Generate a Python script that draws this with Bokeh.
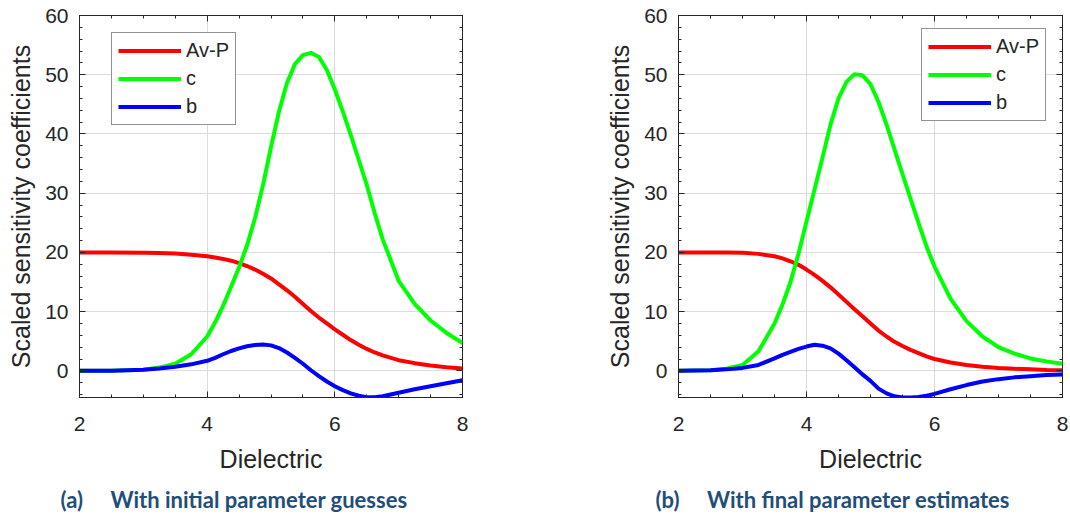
from bokeh.plotting import figure
from bokeh.models import Range1d, SingleIntervalTicker, LinearAxis, Legend, LegendItem, Title
from bokeh.layouts import row
from bokeh.embed import file_html
from bokeh.resources import INLINE

# ---------------- data ----------------
series_names = ["Av-P", "c", "b"]

x_a = [2, 2.5, 3, 3.25, 3.5, 3.75, 4, 4.125, 4.25, 4.375, 4.5, 4.625, 4.75, 4.875, 5, 5.125,
       5.25, 5.375, 5.5, 5.625, 5.75, 5.875, 6, 6.125, 6.25, 6.375, 6.5, 6.625, 6.75, 7, 7.25,
       7.5, 7.75, 8]
avp_a = [20, 20, 19.95, 19.9, 19.8, 19.6, 19.35, 19.15, 18.9, 18.6, 18.2, 17.7, 17.1, 16.4, 15.6,
         14.6, 13.6, 12.5, 11.3, 10.1, 9.0, 8.0, 7.0, 6.1, 5.2, 4.4, 3.7, 3.1, 2.6, 1.8, 1.3, 0.9,
         0.6, 0.4]
c_a = [0, 0.02, 0.2, 0.55, 1.2, 2.8, 5.8, 8.2, 11.0, 14.2, 17.5, 21.2, 25.8, 31.4, 37.8, 43.8,
       48.6, 51.8, 53.3, 53.7, 53.0, 50.8, 47.5, 43.8, 39.8, 35.6, 31.4, 26.6, 22.2, 15.2, 11.3,
       8.5, 6.4, 4.7]
b_a = [0, 0.03, 0.2, 0.4, 0.7, 1.1, 1.7, 2.2, 2.8, 3.35, 3.8, 4.15, 4.38, 4.45, 4.3, 3.85, 3.1,
       2.2, 1.2, 0.1, -0.9, -1.8, -2.6, -3.25, -3.8, -4.2, -4.45, -4.45, -4.3, -3.7, -3.1, -2.6,
       -2.1, -1.6]

x_b = [2, 2.5, 2.75, 3, 3.25, 3.5, 3.625, 3.75, 3.875, 4, 4.125, 4.25, 4.375, 4.5, 4.625, 4.75,
       4.875, 5, 5.125, 5.25, 5.375, 5.5, 5.625, 5.75, 5.875, 6, 6.25, 6.5, 6.75, 7, 7.25, 7.5,
       7.75, 8]
avp_b = [20, 20, 19.98, 19.95, 19.75, 19.35, 19.0, 18.5, 17.9, 17.1, 16.2, 15.2, 14.1, 12.9,
         11.65, 10.4, 9.2, 8.0, 6.8, 5.8, 4.9, 4.2, 3.55, 3.0, 2.45, 2.0, 1.4, 1.0, 0.7, 0.5,
         0.35, 0.25, 0.15, 0.1]
c_b = [0, 0.1, 0.35, 1.0, 3.3, 8.0, 11.2, 15.0, 19.8, 25.2, 30.6, 36.0, 41.6, 46.0, 48.8, 50.1,
       49.9, 48.4, 45.4, 41.6, 37.4, 33.2, 29.1, 25.0, 21.0, 17.6, 12.2, 8.4, 5.8, 4.0, 2.9, 2.1,
       1.6, 1.2]
b_b = [0, 0.1, 0.25, 0.5, 1.0, 2.1, 2.7, 3.2, 3.7, 4.1, 4.4, 4.25, 3.8, 2.9, 1.8, 0.6, -0.6,
       -1.7, -3.0, -3.8, -4.3, -4.5, -4.5, -4.4, -4.2, -3.9, -3.1, -2.4, -1.8, -1.4, -1.1, -0.9,
       -0.7, -0.6]

x_label = "Dielectric"
y_label = "Scaled sensitivity coefficients"
captions = ["(a)\u2003\u2002With initial parameter guesses",
            "(b)\u2003\u2002With final parameter estimates"]

# ---------------- styling ----------------
colors = ["#ff0000", "#00ff00", "#0000ff"]
DARK = "#262626"
FONT = "Liberation Sans"
CAP_COLOR = "#1f4e79"


def make_panel(x, ys, border_left, border_right, legend_loc, caption, cap_offset):
    p = figure(width=535, height=520, output_backend="svg", toolbar_location=None,
               x_range=Range1d(2, 8), y_range=Range1d(-4.5, 60),
               min_border_left=border_left, min_border_right=border_right,
               min_border_top=15, min_border_bottom=10)
    p.background_fill_color = "white"
    p.border_fill_color = "white"
    p.outline_line_color = DARK
    p.outline_line_width = 1
    p.outline_line_alpha = 1

    xt = SingleIntervalTicker(interval=2, num_minor_ticks=4)
    yt = SingleIntervalTicker(interval=10, num_minor_ticks=5)
    p.xaxis.ticker = xt
    p.yaxis.ticker = yt
    p.xgrid.ticker = xt
    p.ygrid.ticker = yt
    for g in (p.xgrid, p.ygrid):
        g.grid_line_color = "#dcdcdc"
        g.grid_line_width = 1

    for ax in (p.xaxis, p.yaxis):
        ax.axis_line_color = DARK
        ax.major_tick_in = 6
        ax.major_tick_out = 0
        ax.minor_tick_in = 3
        ax.minor_tick_out = 0
        ax.major_tick_line_color = DARK
        ax.minor_tick_line_color = DARK
        ax.major_label_text_font = FONT
        ax.major_label_text_font_size = "21px"
        ax.major_label_text_color = DARK
        ax.axis_label_text_font = FONT
        ax.axis_label_text_font_size = "25px"
        ax.axis_label_text_font_style = "normal"
        ax.axis_label_text_color = DARK
    p.xaxis.axis_label = x_label
    p.yaxis.axis_label = y_label
    p.xaxis.major_label_standoff = 19
    p.xaxis.axis_label_standoff = 11
    p.yaxis.major_label_standoff = 11
    p.yaxis.axis_label_standoff = 7

    # ticks on top and right (box style)
    for ticker, side in ((xt, "above"), (yt, "right")):
        ax = LinearAxis(ticker=ticker, axis_line_color=None, major_tick_in=6, major_tick_out=0,
                        minor_tick_in=3, minor_tick_out=0, major_tick_line_color=DARK,
                        minor_tick_line_color=DARK, major_label_text_font_size="1px",
                        major_label_text_color=None, major_label_standoff=0)
        p.add_layout(ax, side)

    renderers = []
    for yv, col in zip(ys, colors):
        r = p.line(x, yv, line_color=col, line_width=4)
        renderers.append(r)

    legend = Legend(items=[LegendItem(label=n, renderers=[r]) for n, r in zip(series_names, renderers)],
                    location=legend_loc, orientation="vertical")
    legend.border_line_color = DARK
    legend.border_line_width = 1
    legend.background_fill_color = "white"
    legend.background_fill_alpha = 1
    legend.label_text_font = FONT
    legend.label_text_font_size = "20px"
    legend.label_text_color = DARK
    legend.glyph_width = 63
    legend.glyph_height = 21
    legend.label_height = 21
    legend.label_standoff = 5
    legend.spacing = 5
    legend.padding = 6
    legend.margin = 0
    p.add_layout(legend)

    cap = Title(text=caption, align="left", offset=cap_offset, standoff=16,
                text_font="Lato", text_font_size="22px", text_font_style="bold",
                text_color=CAP_COLOR)
    p.add_layout(cap, "below")
    return p


p1 = make_panel(x_a, [avp_a, c_a, b_a], 79, 73, (32, 272), captions[0], -19)
p2 = make_panel(x_b, [avp_b, c_b, b_b], 143, 8, (243, 276), captions[1], -23)

layout = row(p1, p2, spacing=0)
open("out.html", "w").write(file_html(layout, INLINE))
